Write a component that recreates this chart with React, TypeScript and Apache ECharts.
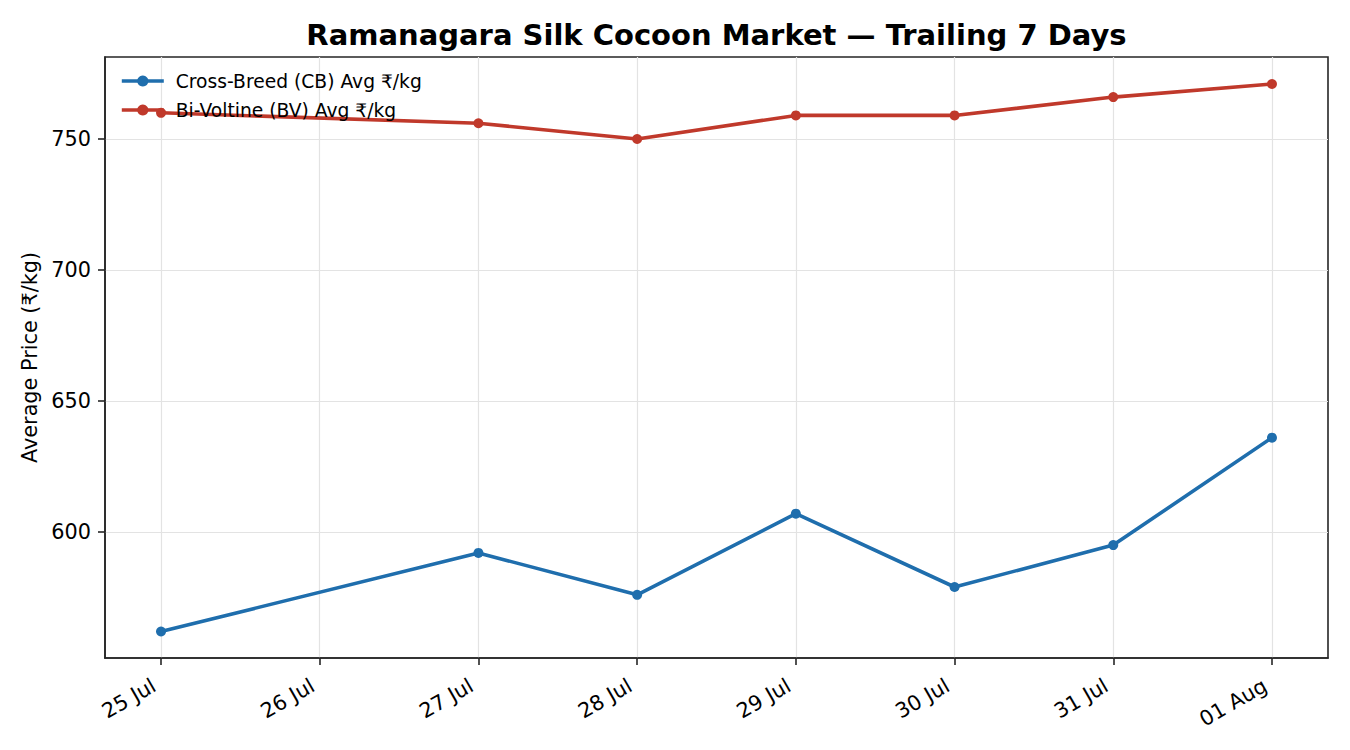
import React, { useEffect, useRef } from "react";
import * as echarts from "echarts";

const dayLabels = ["25 Jul", "26 Jul", "27 Jul", "28 Jul", "29 Jul", "30 Jul", "31 Jul", "01 Aug"];
const dayTicks = [0, 1, 2, 3, 4, 5, 6, 7];
const obsDays = [0, 2, 3, 4, 5, 6, 7];
const cbValues = [562, 592, 576, 607, 579, 595, 636];
const bvValues = [760, 756, 750, 759, 759, 766, 771];
const yTicks = [600, 650, 700, 750];

const FONT = "DejaVu Sans";
const BLUE = "#1f6ead";
const RED = "#c0392b";
const AXIS = "#262626";

export default function App() {
  const ref = useRef<HTMLDivElement>(null);
  useEffect(() => {
    if (!ref.current) return;
    const chart = echarts.init(ref.current, undefined, { renderer: "svg" });
    const cbData = obsDays.map((d, i) => [d, cbValues[i]]);
    const bvData = obsDays.map((d, i) => [d, bvValues[i]]);
    chart.setOption({
      animation: false,
      backgroundColor: "#ffffff",
      textStyle: { fontFamily: FONT },
      graphic: [
        {
          type: "text",
          x: 716.5,
          y: 35,
          style: {
            text: "Ramanagara Silk Cocoon Market — Trailing 7 Days",
            font: `bold 29px "${FONT}"`,
            fill: "#000",
            align: "center",
            verticalAlign: "middle",
          },
        },
      ],
      grid: {
        left: 105,
        top: 57,
        right: 22,
        bottom: 92,
        show: true,
        borderColor: AXIS,
        borderWidth: 1.6,
        backgroundColor: "transparent",
      },
      legend: {
        left: 120,
        top: 71,
        padding: 0,
        orient: "vertical",
        itemWidth: 42,
        itemHeight: 14,
        itemGap: 9,
        lineStyle: { width: 3.6 },
        textStyle: { fontFamily: FONT, fontSize: 18.7, lineHeight: 20, color: "#000", padding: [0, 0, 0, 7] },
        data: ["Cross-Breed (CB) Avg ₹/kg", "Bi-Voltine (BV) Avg ₹/kg"],
      },
      xAxis: {
        type: "value",
        min: -0.353,
        max: 7.353,
        minInterval: 1,
        maxInterval: 1,
        axisLine: { show: true, onZero: false, lineStyle: { color: AXIS, width: 1.6 } },
        axisTick: {
          show: true,
          length: 7,
          lineStyle: { color: AXIS, width: 1.6 },
          customValues: dayTicks,
        },
        axisLabel: {
          customValues: dayTicks,
          rotate: 30,
          fontFamily: FONT,
          fontSize: 20.8,
          color: "#000",
          margin: 22,
          padding: [0, 8, 0, 0],
          formatter: (v: number) => {
            const i = Math.round(v);
            return Math.abs(v - i) < 1e-6 && dayLabels[i] ? dayLabels[i] : "";
          },
        },
        splitLine: { show: true, lineStyle: { color: "#e3e3e3", width: 1.2 } },
      },
      yAxis: {
        type: "value",
        min: 551.9,
        max: 781.3,
        minInterval: 50,
        maxInterval: 50,
        name: "Average Price (₹/kg)",
        nameLocation: "middle",
        nameGap: 65,
        nameTextStyle: { fontFamily: FONT, fontSize: 20.8, color: "#000" },
        axisLine: { show: true, onZero: false, lineStyle: { color: AXIS, width: 1.6 } },
        axisTick: {
          show: true,
          length: 7,
          lineStyle: { color: AXIS, width: 1.6 },
          customValues: yTicks,
        },
        axisLabel: {
          customValues: yTicks,
          fontFamily: FONT,
          fontSize: 20.8,
          color: "#000",
          margin: 14,
          formatter: (v: number) =>
            yTicks.indexOf(Math.round(v)) >= 0 && Math.abs(v - Math.round(v)) < 1e-6 ? String(v) : "",
        },
        splitLine: { show: true, lineStyle: { color: "#e3e3e3", width: 1.2 } },
      },
      series: [
        {
          name: "Cross-Breed (CB) Avg ₹/kg",
          type: "line",
          data: cbData,
          symbol: "circle",
          symbolSize: 10,
          itemStyle: { color: BLUE },
          lineStyle: { color: BLUE, width: 3.6 },
          z: 3,
        },
        {
          name: "Bi-Voltine (BV) Avg ₹/kg",
          type: "line",
          data: bvData,
          symbol: "circle",
          symbolSize: 10,
          itemStyle: { color: RED },
          lineStyle: { color: RED, width: 3.6 },
          z: 3,
        },
      ],
    });
    return () => chart.dispose();
  }, []);
  return <div ref={ref} style={{ width: 1350, height: 750, position: "absolute", left: 0, top: 0 }} />;
}
